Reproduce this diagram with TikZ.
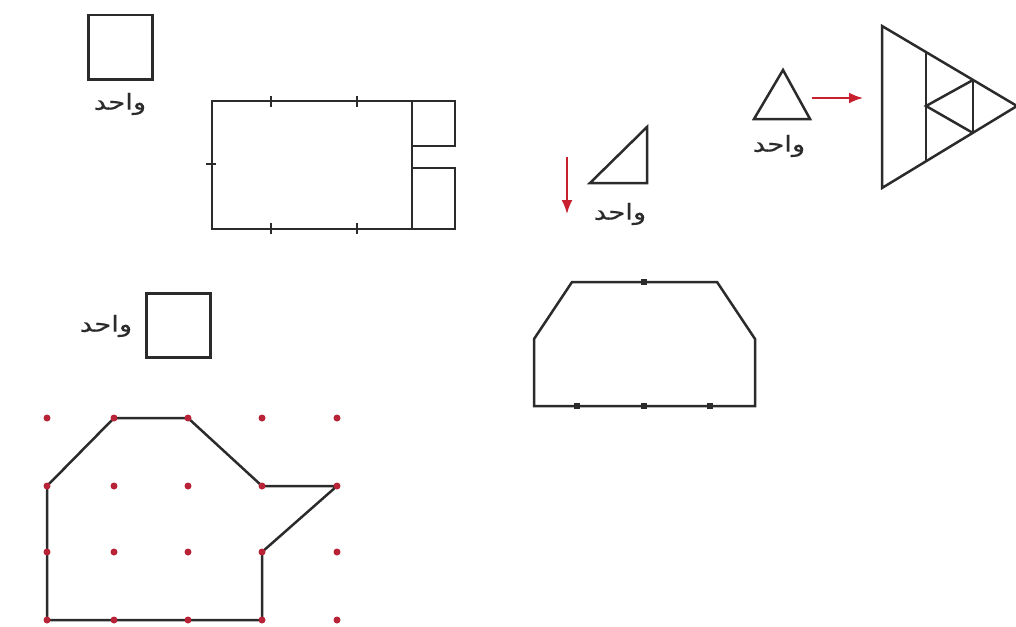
\documentclass[tikz,border=0pt]{standalone}
\usepackage{fontspec}
\newfontfamily\arabicfont[Script=Arabic,FakeStretch=1.25,FakeBold=0.6]{DejaVu Sans}
\TeXXeTstate=1
\usetikzlibrary{arrows.meta}
\definecolor{ln}{HTML}{2B2B2B}
\definecolor{dotred}{HTML}{B82338}
\definecolor{arrred}{HTML}{C8202F}
\begin{document}
\begin{tikzpicture}[x=1pt,y=-1pt,
  shapeline/.style={draw=ln,line width=2.5pt,line join=miter},
  unitsq/.style={draw=ln,line width=2.5pt,inner sep=0pt,minimum width=64pt,minimum height=64pt,anchor=north west},
  lbl/.style={font=\arabicfont\fontsize{22}{26}\selectfont,text=ln,inner sep=0pt},
  reddot/.style={circle,fill=dotred,inner sep=0pt,minimum size=7pt},
  blackdot/.style={rectangle,fill=ln,inner sep=0pt,minimum size=6pt},
  redarrow/.style={draw=arrred,line width=2pt,-{Latex[length=14pt,width=11pt]}},
  tickmark/.style={draw=ln,line width=2.2pt}]
\useasboundingbox (0,0) rectangle (1016,626);

% ---- top-left unit square
\node[unitsq] (usqA) at (87,14) {};
\node[lbl] (labA) at (120,104) {\beginR واحد\endR};

% ---- rectangle with ticks
\coordinate (r1) at (212,101);
\coordinate (r2) at (412,101);
\coordinate (r3) at (412,229);
\coordinate (r4) at (212,229);
\draw[shapeline] (r1) -- (r2) -- (r3) -- (r4) -- cycle;
\coordinate (s1) at (455,101);
\coordinate (s2) at (455,146);
\coordinate (s3) at (412,146);
\coordinate (s4) at (412,168);
\coordinate (s5) at (455,168);
\coordinate (s6) at (455,229);
\draw[shapeline] (r2) -- (s1) -- (s2) -- (s3);
\draw[shapeline] (s4) -- (s5) -- (s6) -- (r3);
\coordinate (t1a) at (271,96);  \coordinate (t1b) at (271,107);
\coordinate (t2a) at (357,96);  \coordinate (t2b) at (357,107);
\coordinate (t3a) at (271,223); \coordinate (t3b) at (271,234);
\coordinate (t4a) at (357,223); \coordinate (t4b) at (357,234);
\coordinate (t5a) at (206,164); \coordinate (t5b) at (216,164);
\draw[tickmark] (t1a) -- (t1b);
\draw[tickmark] (t2a) -- (t2b);
\draw[tickmark] (t3a) -- (t3b);
\draw[tickmark] (t4a) -- (t4b);
\draw[tickmark] (t5a) -- (t5b);

% ---- right triangle with down arrow
\coordinate (da1) at (567,157);
\coordinate (da2) at (567,214);
\draw[redarrow] (da1) -- (da2);
\coordinate (rt1) at (590,183);
\coordinate (rt2) at (647,183);
\coordinate (rt3) at (647,127);
\draw[shapeline] (rt1) -- (rt2) -- (rt3) -- cycle;
\node[lbl] (labB) at (620,214) {\beginR واحد\endR};

% ---- equilateral triangle unit and arrow
\coordinate (et1) at (783,70);
\coordinate (et2) at (754,119);
\coordinate (et3) at (810,119);
\draw[shapeline] (et1) -- (et2) -- (et3) -- cycle;
\node[lbl] (labC) at (779,146) {\beginR واحد\endR};
\coordinate (ra1) at (812,98);
\coordinate (ra2) at (863,98);
\draw[redarrow] (ra1) -- (ra2);

% ---- big triangle
\coordinate (bt1) at (882,26);
\coordinate (bt2) at (882,188);
\coordinate (bt3) at (1017,106);
\draw[shapeline] (bt1) -- (bt2) -- (bt3) -- cycle;
\coordinate (v1a) at (926,52);
\coordinate (v1b) at (926,161);
\coordinate (v2a) at (973,80);
\coordinate (v2b) at (973,133);
\coordinate (rh) at (926,106);
\draw[shapeline] (v1a) -- (v1b);
\draw[shapeline] (v2a) -- (v2b);
\draw[shapeline] (v2a) -- (rh) -- (v2b);

% ---- second unit square
\node[unitsq] (usqB) at (145,292) {};
\node[lbl] (labD) at (106,326) {\beginR واحد\endR};

% ---- dot grid polygon
\foreach \i/\x in {1/47,2/114,3/188,4/262,5/337}{
  \foreach \j/\y in {1/418,2/486,3/552,4/620}{
    \coordinate (g\i\j) at (\x,\y);
  }
}
\draw[shapeline] (g21) -- (g31) -- (g42) -- (g52) -- (g43) -- (g44) -- (g14) -- (g12) -- cycle;
\foreach \i in {1,...,5}{
  \foreach \j in {1,...,4}{
    \node[reddot] (d\i\j) at (g\i\j) {};
  }
}

% ---- hexagon-like polygon
\coordinate (h1) at (572,282);
\coordinate (h2) at (717,282);
\coordinate (h3) at (755,339);
\coordinate (h4) at (755,406);
\coordinate (h5) at (534,406);
\coordinate (h6) at (534,339);
\draw[shapeline] (h1) -- (h2) -- (h3) -- (h4) -- (h5) -- (h6) -- cycle;
\node[blackdot] (hd1) at (644,282) {};
\node[blackdot] (hd2) at (577,406) {};
\node[blackdot] (hd3) at (644,406) {};
\node[blackdot] (hd4) at (710,406) {};
\end{tikzpicture}
\end{document}
